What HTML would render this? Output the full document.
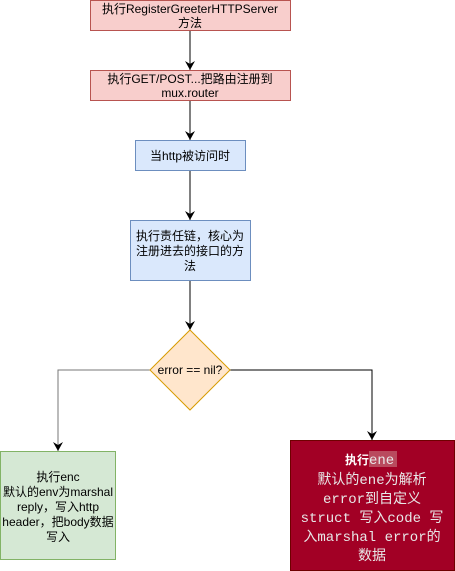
<!DOCTYPE html>
<html><head><meta charset="utf-8"><style>
html,body{margin:0;padding:0;background:#fff;width:455px;height:571px;overflow:hidden}
text{font-family:"Liberation Sans","Noto Sans CJK SC",sans-serif;font-size:12px;fill:#000}
.m{font-family:"Liberation Mono","Noto Sans CJK SC",monospace;font-size:14px;fill:#e8e8e8}
</style></head><body>
<svg width="455" height="571" xmlns="http://www.w3.org/2000/svg">
<defs><marker id="a" markerWidth="10" markerHeight="10" refX="9" refY="5" orient="auto" markerUnits="userSpaceOnUse"><path d="M0,0 L9,5 L0,10 L3,5 Z" fill="#000"/></marker></defs>
<g stroke="#000" fill="none">
<line x1="190" y1="30" x2="190" y2="70" marker-end="url(#a)"/>
<line x1="190" y1="100" x2="190" y2="140" marker-end="url(#a)"/>
<line x1="190" y1="170" x2="190" y2="220" marker-end="url(#a)"/>
<line x1="190" y1="280" x2="190" y2="330" marker-end="url(#a)"/>
<polyline points="150,370 58,370 58,451" stroke="#777" marker-end="url(#a)"/>
<polyline points="230,370 372,370 372,440" marker-end="url(#a)"/>
</g>
<rect x="90.5" y="0.5" width="200" height="30" fill="#f8cecc" stroke="#b85450"/>
<text x="190" y="13" text-anchor="middle">执行RegisterGreeterHTTPServer</text>
<text x="190" y="27" text-anchor="middle">方法</text>
<rect x="90.5" y="70.5" width="200" height="30" fill="#f8cecc" stroke="#b85450"/>
<text x="190" y="83" text-anchor="middle">执行GET/POST...把路由注册到</text>
<text x="190" y="97" text-anchor="middle">mux.router</text>
<rect x="135.5" y="140.5" width="110" height="30" fill="#dae8fc" stroke="#6c8ebf"/>
<text x="190" y="160" text-anchor="middle">当http被访问时</text>
<rect x="130.5" y="220.5" width="120" height="60" fill="#dae8fc" stroke="#6c8ebf"/>
<text x="190" y="240" text-anchor="middle">执行责任链，核心为</text>
<text x="190" y="255" text-anchor="middle">注册进去的接口的方</text>
<text x="190" y="270" text-anchor="middle">法</text>
<polygon points="190,330 230,370 190,410 150,370" fill="#ffe6cc" stroke="#d79b00"/>
<text x="190" y="374" text-anchor="middle">error == nil?</text>
<rect x="0.5" y="451.5" width="115" height="108" fill="#d5e8d4" stroke="#82b366"/>
<text x="58" y="481" text-anchor="middle">执行enc</text>
<text x="58" y="496" text-anchor="middle">默认的env为marshal</text>
<text x="58" y="511" text-anchor="middle">reply，写入http</text>
<text x="58" y="526" text-anchor="middle">header，把body数据</text>
<text x="58" y="541" text-anchor="middle">写入</text>
<rect x="290.5" y="440.5" width="164" height="130" fill="#a20025" stroke="#6f0000"/>
<rect x="369" y="451" width="28" height="16" fill="#b94a5e"/>
<text x="369" y="464" text-anchor="end" style="fill:#fff;font-weight:bold">执行</text>
<text x="369" y="464" class="m">ene</text>
<text x="372" y="484" text-anchor="middle" class="m">默认的ene为解析</text>
<text x="372" y="503" text-anchor="middle" class="m">error到自定义</text>
<text x="372" y="522" text-anchor="middle" class="m">struct 写入code 写</text>
<text x="372" y="541" text-anchor="middle" class="m">入marshal error的</text>
<text x="372" y="560" text-anchor="middle" class="m">数据</text>
</svg>
</body></html>
